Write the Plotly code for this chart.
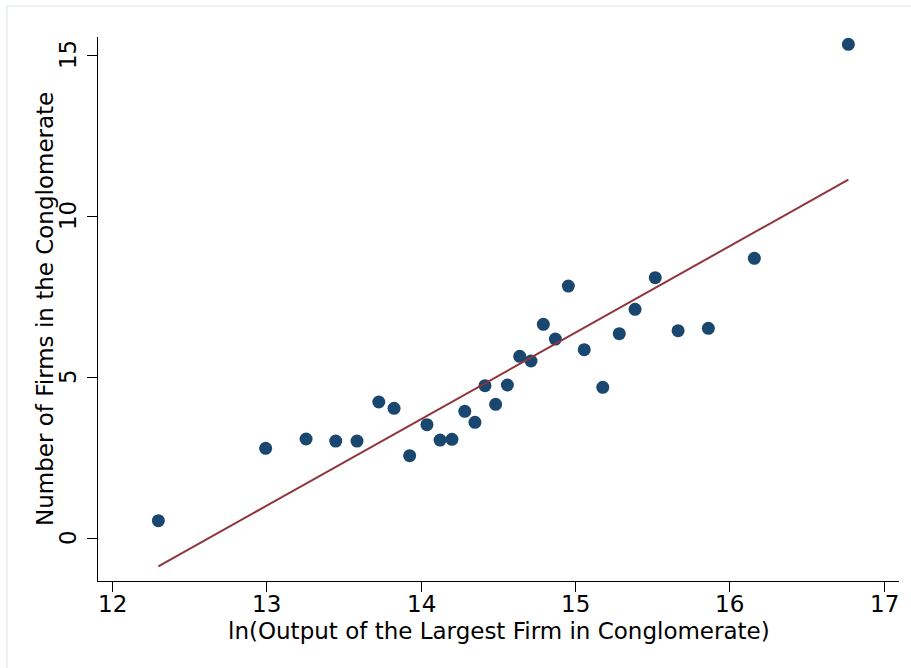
import plotly.graph_objects as go

# ln(output of the largest firm) and number of firms, one entry per conglomerate
ln_output = [12.297, 12.992, 13.254, 13.446, 13.584, 13.725, 13.824, 13.925,
             14.037, 14.122, 14.199, 14.282, 14.348, 14.413, 14.482, 14.558,
             14.638, 14.711, 14.791, 14.869, 14.953, 15.056, 15.176, 15.283,
             15.385, 15.516, 15.664, 15.860, 16.158, 16.767]
n_firms = [0.537, 2.786, 3.075, 3.012, 3.012, 4.224, 4.028, 2.556,
           3.519, 3.043, 3.065, 3.935, 3.593, 4.730, 4.152, 4.752,
           5.643, 5.497, 6.637, 6.180, 7.826, 5.848, 4.680, 6.345,
           7.102, 8.084, 6.438, 6.512, 8.686, 15.332]

# fitted line endpoints
fit_x = [12.297, 16.767]
fit_y = [-0.88, 11.13]

x_ticks = [12, 13, 14, 15, 16, 17]
y_ticks = [0, 5, 10, 15]

x_title = "ln(Output of the Largest Firm in Conglomerate)"
y_title = "Number of Firms in the Conglomerate"

FONT = "DejaVu Sans"
NAVY = "#1a476f"
MAROON = "#90353b"

# plot-area geometry in pixels
L, R, T, B = 98, 12, 37, 87
W, H = 911, 668
PW, PH = W - L - R, H - T - B


def paper_y(py):
    return (H - B - py) / PH


def paper_x(px):
    return (px - L) / PW


fig = go.Figure()
fig.add_trace(go.Scatter(
    x=ln_output, y=n_firms, mode="markers",
    marker=dict(color=NAVY, size=13, line=dict(width=0)),
    showlegend=False, hoverinfo="x+y",
))
fig.add_trace(go.Scatter(
    x=fit_x, y=fit_y, mode="lines",
    line=dict(color=MAROON, width=2),
    showlegend=False,
))

axis_common = dict(
    showline=True, linecolor="black", linewidth=1.3,
    ticks="outside", ticklen=10, tickwidth=1.3, tickcolor="black",
    showgrid=False, zeroline=False, showticklabels=False,
)

label_font = dict(family=FONT, size=23, color="black")

annotations = []
# x tick labels just under the tick marks
for v in x_ticks:
    annotations.append(dict(
        text=str(v), xref="x", yref="paper", x=v, y=paper_y(604),
        xanchor="center", yanchor="middle", showarrow=False, font=label_font))
# y tick labels, rotated, left of the tick marks
for v in y_ticks:
    annotations.append(dict(
        text=str(v), xref="paper", yref="y", x=paper_x(68), y=v, textangle=-90,
        xanchor="center", yanchor="middle", showarrow=False, font=label_font))
annotations += [
    dict(text=x_title, xref="paper", yref="paper",
         x=0.5, y=paper_y(631), xanchor="center", yanchor="middle",
         showarrow=False, font=label_font),
    dict(text=y_title, xref="paper", yref="paper", textangle=-90,
         x=paper_x(45), y=0.5, xanchor="center", yanchor="middle",
         showarrow=False, font=label_font),
]

fig.update_layout(
    width=W, height=H,
    margin=dict(l=L, r=R, t=T, b=B),
    paper_bgcolor="white", plot_bgcolor="white",
    font=dict(family=FONT, color="black"),
    xaxis=dict(range=[11.906, 17.095], tickvals=x_ticks, **axis_common),
    yaxis=dict(range=[-1.335, 15.56], tickvals=y_ticks, **axis_common),
    annotations=annotations,
    shapes=[dict(
        type="rect", xref="paper", yref="paper",
        x0=paper_x(7), x1=1.2, y0=-0.3, y1=paper_y(6),
        line=dict(color="#e6eef0", width=1.5), fillcolor="rgba(0,0,0,0)",
        layer="below",
    )],
)

fig.write_html("out.html")
